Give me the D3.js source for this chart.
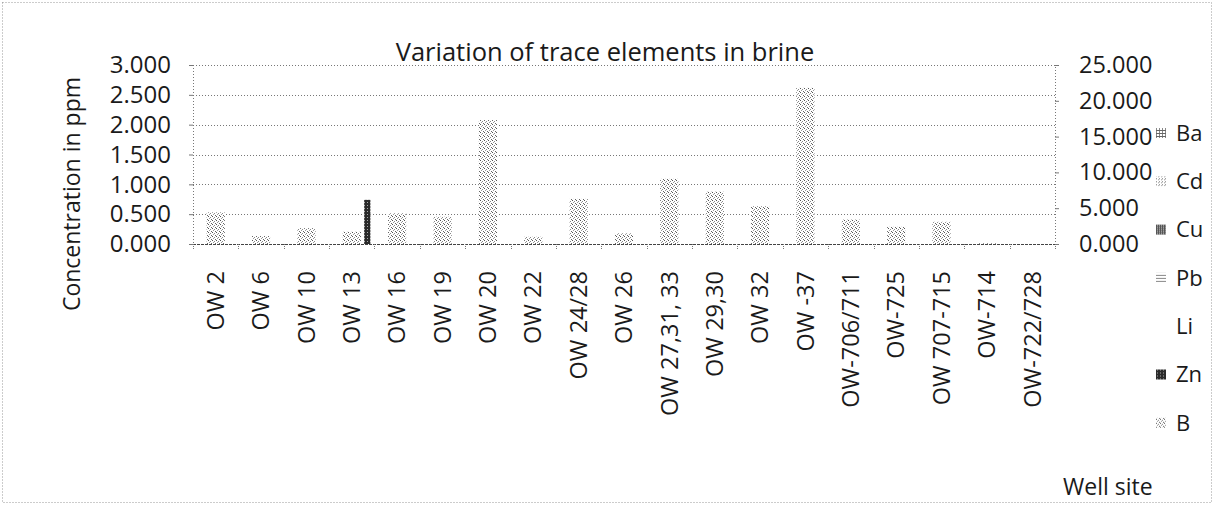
<!DOCTYPE html>
<html>
  <head>
    <script src="https://cdnjs.cloudflare.com/ajax/libs/d3/7.8.5/d3.min.js"></script>
    <style>
      body { margin: 0; background: #fff; }
      text { font-family: "Open Sans", "Noto Sans", sans-serif; fill: #1a1a1a; }
    </style>
  </head>
  <body>
    <svg id="chart" width="1214" height="506"></svg>
    <script>
    var wells = ["OW 2", "OW 6", "OW 10", "OW 13", "OW 16", "OW 19", "OW 20", "OW 22",
      "OW 24/28", "OW 26", "OW 27,31, 33", "OW 29,30", "OW 32", "OW -37", "OW-706/711",
      "OW-725", "OW 707-715", "OW-714", "OW-722/728"];

    // primary axis series (ppm)
    var ba = [0, 0, 0, 0, 0, 0, 0, 0, 0, 0, 0, 0, 0, 0, 0, 0, 0, 0, 0];
    var cd = [0, 0, 0, 0, 0, 0, 0, 0, 0, 0, 0, 0, 0, 0, 0, 0, 0, 0, 0];
    var cu = [0, 0, 0, 0, 0, 0, 0, 0, 0, 0, 0, 0, 0, 0, 0, 0, 0, 0, 0];
    var pb = [0, 0, 0, 0, 0, 0, 0, 0, 0, 0, 0, 0, 0, 0, 0, 0, 0, 0, 0];
    var li = [0, 0, 0, 0, 0, 0, 0, 0, 0, 0, 0, 0, 0, 0, 0, 0, 0, 0, 0];
    var zn = [0, 0, 0, 0.74, 0, 0, 0, 0, 0, 0, 0, 0, 0, 0, 0, 0, 0, 0, 0];
    // secondary axis series
    var boron = [4.4, 1.1, 2.2, 1.7, 4.3, 3.8, 17.3, 1.0, 6.3, 1.5, 9.1, 7.3, 5.3, 21.8,
      3.4, 2.4, 3.1, 0.1, 0];

    var leftTicks = [0, 0.5, 1, 1.5, 2, 2.5, 3];
    var rightTicks = [0, 5, 10, 15, 20, 25];
    var seriesNames = ["Ba", "Cd", "Cu", "Pb", "Li", "Zn", "B"];

    var svg = d3.select("#chart");
    var plotLeft = 193, plotRight = 1055, plotTop = 65, plotBottom = 244;

    // textures to mimic the scanned print
    var defs = svg.append("defs");
    function pattern(id, w, h, bg, dots) {
      var p = defs.append("pattern").attr("id", id).attr("patternUnits", "userSpaceOnUse")
        .attr("width", w).attr("height", h);
      if (bg) p.append("rect").attr("width", w).attr("height", h).attr("fill", bg);
      dots.forEach(function(d) {
        p.append("rect").attr("x", d[0]).attr("y", d[1]).attr("width", d[2] || 1)
          .attr("height", d[3] || 1).attr("fill", d[4] || "#666");
      });
    }
    pattern("patB", 4, 4, "#fff", [[0, 0, 1, 1, "#555"], [2, 1, 1, 1, "#888"],
      [1, 2, 1, 1, "#999"], [3, 3, 1, 1, "#666"]]);
    pattern("patZn", 3, 3, "#2a2a2a", [[1, 1, 1, 1, "#aaa"]]);
    pattern("patBa", 3, 3, "#fff", [[0, 0, 3, 1, "#666"], [0, 1, 1, 2, "#888"]]);
    pattern("patCd", 3, 3, "#fff", [[0, 0, 1, 1, "#777"], [2, 1, 1, 1, "#999"]]);
    pattern("patCu", 2, 2, "#555", [[1, 1, 1, 1, "#ccc"]]);
    pattern("patPb", 3, 3, "#fff", [[0, 0, 3, 1, "#888"]]);
    var fills = {Ba: "url(#patBa)", Cd: "url(#patCd)", Cu: "url(#patCu)", Pb: "url(#patPb)",
      Li: "none", Zn: "url(#patZn)", B: "url(#patB)"};

    // outer chart border
    svg.append("rect").attr("x", 2.5).attr("y", 2.5).attr("width", 1209).attr("height", 500)
      .attr("fill", "none").attr("stroke", "#999").attr("stroke-dasharray", "1 2");

    var x = d3.scaleBand().domain(wells).range([plotLeft, plotRight]);
    var yL = d3.scaleLinear().domain([0, 3]).range([plotBottom, plotTop]);
    var yR = d3.scaleLinear().domain([0, 25]).range([plotBottom, plotTop]);
    var inner = d3.scaleBand().domain(seriesNames.slice(0, 6)).range([0, x.bandwidth()])
      .paddingInner(0).paddingOuter(0.66);

    // gridlines
    svg.append("g").selectAll("line").data(leftTicks.slice(1)).enter().append("line")
      .attr("x1", plotLeft).attr("x2", plotRight)
      .attr("y1", function(d) { return Math.round(yL(d)) + 0.5; })
      .attr("y2", function(d) { return Math.round(yL(d)) + 0.5; })
      .attr("stroke", "#777").attr("stroke-dasharray", "1 2");

    // left axis
    var gL = svg.append("g").attr("transform", "translate(" + plotLeft + ",0)")
      .call(d3.axisLeft(yL).tickValues(leftTicks).tickFormat(d3.format(".3f"))
        .tickSize(4).tickPadding(18));
    gL.select(".domain").attr("stroke", "#777").attr("stroke-dasharray", "1 2");
    gL.selectAll(".tick line").attr("stroke", "#777");
    gL.selectAll("text").style("font-size", "24px").attr("fill", "#1a1a1a")
      .style("font-family", "'Open Sans', sans-serif");

    // right axis
    var gR = svg.append("g").attr("transform", "translate(" + plotRight + ",0)")
      .call(d3.axisRight(yR).tickValues(rightTicks).tickFormat(d3.format(".3f"))
        .tickSize(4).tickPadding(20));
    gR.select(".domain").attr("stroke", "#777").attr("stroke-dasharray", "1 2");
    gR.selectAll(".tick line").attr("stroke", "#777");
    gR.selectAll("text").style("font-size", "23.5px").attr("fill", "#1a1a1a")
      .style("font-family", "'Open Sans', sans-serif");

    // secondary bars (B)
    svg.append("g").selectAll("rect").data(boron).enter().append("rect")
      .attr("x", function(d, i) { return x(wells[i]) + x.bandwidth() * 0.3; })
      .attr("width", x.bandwidth() * 0.4)
      .attr("y", function(d) { return yR(d); })
      .attr("height", function(d) { return plotBottom - yR(d); })
      .attr("fill", fills.B);

    // primary bars
    var primary = [["Ba", ba], ["Cd", cd], ["Cu", cu], ["Pb", pb], ["Li", li], ["Zn", zn]];
    primary.forEach(function(s) {
      svg.append("g").selectAll("rect").data(s[1]).enter().append("rect")
        .attr("x", function(d, i) { return x(wells[i]) + inner(s[0]); })
        .attr("width", inner.bandwidth())
        .attr("y", function(d) { return yL(d); })
        .attr("height", function(d) { return plotBottom - yL(d); })
        .attr("fill", fills[s[0]]);
    });

    // baseline and category ticks
    svg.append("line").attr("x1", plotLeft).attr("x2", plotRight).attr("y1", plotBottom + 0.5)
      .attr("y2", plotBottom + 0.5).attr("stroke", "#444").attr("stroke-dasharray", "3 1");
    svg.append("g").selectAll("line").data(wells.concat([null])).enter().append("line")
      .attr("x1", function(d) { return d ? Math.round(x(d)) + 0.5 : plotRight + 0.5; })
      .attr("x2", function(d) { return d ? Math.round(x(d)) + 0.5 : plotRight + 0.5; })
      .attr("y1", plotBottom).attr("y2", plotBottom + 6).attr("stroke", "#777")
      .attr("stroke-dasharray", "1 1");

    svg.append("g").selectAll("text").data(wells).enter().append("text")
      .attr("transform", function(d) {
        return "translate(" + (x(d) + x.bandwidth() / 2) + ",271) rotate(-90)";
      })
      .attr("text-anchor", "end").attr("dy", "0.35em")
      .style("font-size", "23.5px").text(function(d) { return d; });

    // titles
    svg.append("text").attr("x", 605).attr("y", 61).attr("text-anchor", "middle")
      .style("font-size", "25.5px").text("Variation of trace elements in brine");
    svg.append("text").attr("transform", "translate(80,77) rotate(-90)")
      .attr("text-anchor", "end").style("font-size", "23px")
      .text("Concentration in ppm");
    svg.append("text").attr("x", 1063).attr("y", 495).style("font-size", "23px")
      .text("Well site");

    // legend
    var leg = svg.append("g").selectAll("g").data(seriesNames).enter().append("g")
      .attr("transform", function(d, i) { return "translate(1156," + (133 + i * 48.3) + ")"; });
    leg.append("rect").attr("x", 0).attr("y", -5).attr("width", 10).attr("height", 10)
      .attr("fill", function(d) { return fills[d]; });
    leg.append("text").attr("x", 20).attr("dy", "0.35em").style("font-size", "22px")
      .text(function(d) { return d; });
    </script>
  </body>
</html>
